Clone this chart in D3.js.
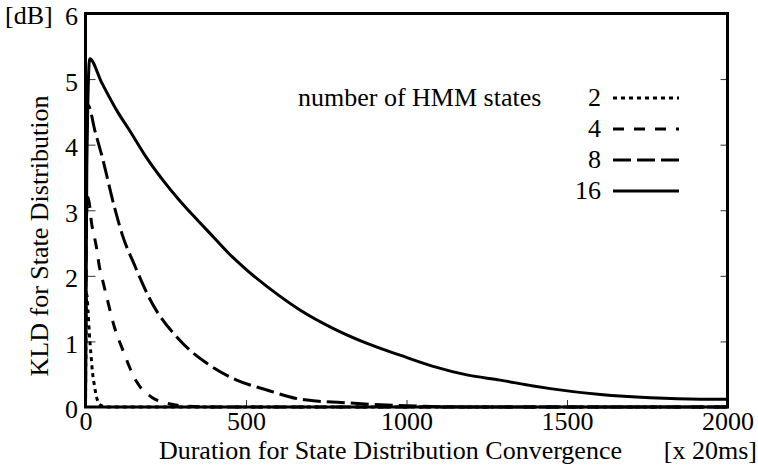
<!DOCTYPE html>
<html>
<head>
<meta charset="utf-8">
<script src="https://cdn.jsdelivr.net/npm/d3@7/dist/d3.min.js"></script>
<style>
  body { margin: 0; background: #fff; }
</style>
</head>
<body>
<svg id="chart" width="758" height="466"></svg>
<script>
// Axis ticks
const xTicks = [0, 500, 1000, 1500, 2000];
const yTicks = [0, 1, 2, 3, 4, 5, 6];

// Legend labels (number of HMM states)
const stateCounts = ["2", "4", "8", "16"];

// KLD [dB] versus elapsed duration [x 20 ms], one pair of arrays per model size
const frames2 = [0, 2, 4, 8, 12, 17, 22, 28, 34, 41, 50, 70, 2000];
const kld2    = [0, 1.5, 1.72, 1.45, 1.12, 0.8, 0.52, 0.32, 0.16, 0.06, 0.02, 0, 0];

const frames4 = [0, 3, 8, 19, 34, 44, 50, 66, 90, 122, 137, 160, 206, 252, 300, 400, 2000];
const kld4    = [0, 2.9, 3.2, 2.8, 2.44, 2.12, 2.0, 1.68, 1.22, 0.8, 0.61, 0.38, 0.15, 0.06, 0.02, 0, 0];

const frames8 = [0, 3, 8, 30, 50, 90, 115, 154, 200, 293, 377, 471, 565, 668, 824, 1000, 1200, 2000];
const kld8    = [0, 4.0, 4.6, 4.2, 3.85, 3.05, 2.62, 2.15, 1.65, 1.02, 0.67, 0.41, 0.26, 0.12, 0.06, 0.02, 0, 0];

const frames16 = [0, 4, 13, 50, 100, 137, 189, 241, 293, 345, 397, 449, 500, 600, 668, 771, 877, 980, 1083, 1188, 1292, 1395, 1448, 1604, 1760, 1916, 2000];
const kld16    = [0, 3.6, 5.31, 4.95, 4.5, 4.22, 3.81, 3.46, 3.15, 2.87, 2.6, 2.33, 2.1, 1.71, 1.48, 1.2, 0.97, 0.79, 0.62, 0.49, 0.41, 0.32, 0.28, 0.19, 0.14, 0.12, 0.12];

const seriesFrames = [frames2, frames4, frames8, frames16];
const seriesKld = [kld2, kld4, kld8, kld16];
const dashes = ["4,4", "11,10", "18,6", null];

const FONT = "Liberation Serif";
const FS = 26;

const svg = d3.select("#chart");
const plot = { left: 85.5, right: 727.5, top: 13.5, bottom: 407 };

const x = d3.scaleLinear().domain([0, 2000]).range([plot.left, plot.right]);
const y = d3.scaleLinear().domain([0, 6]).range([plot.bottom, plot.top]);

// Axes with inward ticks
const gLeft = svg.append("g").attr("transform", `translate(${plot.left},0)`)
  .call(d3.axisLeft(y).tickValues(yTicks).tickSize(-10).tickPadding(7.5).tickFormat(d3.format("d")));
const gRight = svg.append("g").attr("transform", `translate(${plot.right},0)`)
  .call(d3.axisRight(y).tickValues(yTicks).tickSize(-7).tickFormat(""));
const gBottom = svg.append("g").attr("transform", `translate(0,${plot.bottom})`)
  .call(d3.axisBottom(x).tickValues(xTicks).tickSize(-7).tickPadding(5).tickFormat(d3.format("d")));

[gLeft, gRight, gBottom].forEach(g => {
  g.attr("font-family", FONT).attr("font-size", FS);
  g.select(".domain").remove();
  g.selectAll(".tick line").attr("stroke", "#333").attr("stroke-width", 1);
  g.selectAll(".tick text").attr("fill", "#000");
});
gLeft.selectAll(".tick text").attr("dy", "0.42em");

// Curves
const line = d3.line()
  .x(d => x(d[0]))
  .y(d => y(d[1]))
  .curve(d3.curveMonotoneX);

seriesFrames.forEach((fr, i) => {
  const pts = fr.map((f, j) => [f, seriesKld[i][j]]);
  svg.append("path")
    .attr("d", line(pts))
    .attr("fill", "none")
    .attr("stroke", "#000")
    .attr("stroke-width", 3)
    .attr("stroke-dasharray", dashes[i]);
});

// Frame
svg.append("rect")
  .attr("x", plot.left).attr("y", plot.top)
  .attr("width", plot.right - plot.left).attr("height", plot.bottom - plot.top)
  .attr("fill", "none").attr("stroke", "#000").attr("stroke-width", 3);

function label(sel) {
  return sel.attr("font-family", FONT).attr("font-size", FS).attr("fill", "#000");
}

// Unit labels and titles
label(svg.append("text")).attr("x", 5).attr("y", y(6)).attr("dy", "0.42em").text("[dB]");

label(svg.append("text"))
  .attr("transform", `translate(48,236) rotate(-90)`)
  .attr("text-anchor", "middle")
  .text("KLD for State Distribution");

label(svg.append("text")).attr("x", 622).attr("y", 459).attr("text-anchor", "end")
  .text("Duration for State Distribution Convergence");

label(svg.append("text")).attr("x", 757).attr("y", 459).attr("text-anchor", "end")
  .text("[x 20ms]");

// Legend
const legend = { textX: 601, lineX0: 613, lineX1: 679, top: 98, gap: 31 };
label(svg.append("text")).attr("x", 298).attr("y", legend.top).attr("dy", "0.3em")
  .text("number of HMM states");

stateCounts.forEach((s, i) => {
  const ly = legend.top + i * legend.gap;
  label(svg.append("text")).attr("x", legend.textX).attr("y", ly).attr("dy", "0.3em")
    .attr("text-anchor", "end").text(s);
  svg.append("line")
    .attr("x1", legend.lineX0).attr("x2", legend.lineX1)
    .attr("y1", ly).attr("y2", ly)
    .attr("stroke", "#000").attr("stroke-width", 3)
    .attr("stroke-dasharray", dashes[i]);
});
</script>
</body>
</html>
